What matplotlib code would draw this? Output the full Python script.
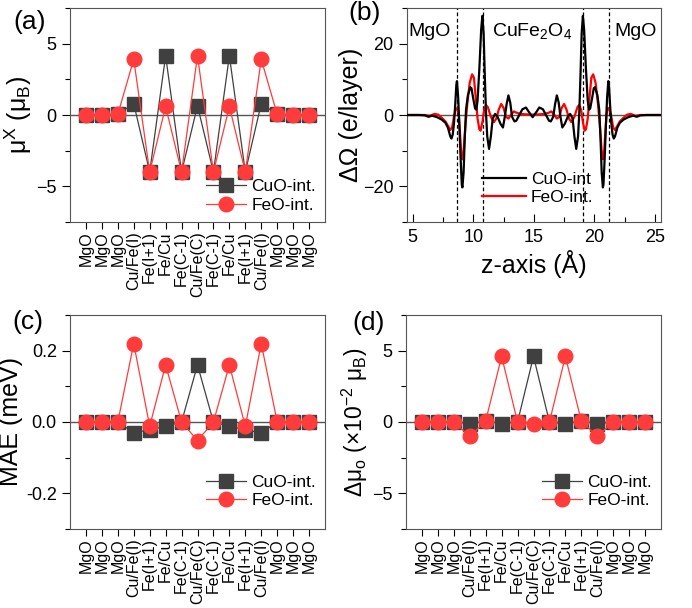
import matplotlib
matplotlib.use('Agg')
import matplotlib.pyplot as plt
from matplotlib.ticker import MultipleLocator, FuncFormatter

plt.rcParams['font.family'] = ['Liberation Sans', 'DejaVu Sans']
plt.rcParams['mathtext.fontset'] = 'custom'
plt.rcParams['mathtext.rm'] = 'Liberation Sans'
plt.rcParams['mathtext.it'] = 'Liberation Sans'

## Layer labels (shared by a, c, d)
layers = ['MgO', 'MgO', 'MgO', 'Cu/Fe(I)', 'Fe(I+1)', 'Fe/Cu', 'Fe(C-1)', 'Cu/Fe(C)',
          'Fe(C-1)', 'Fe/Cu', 'Fe(I+1)', 'Cu/Fe(I)', 'MgO', 'MgO', 'MgO']

## (a) spin moments
mu_cuo = [0, 0, 0.05, 0.8, -4.0, 4.15, -4.0, 0.65, -4.0, 4.15, -4.0, 0.8, 0.05, 0, 0]
mu_feo = [0, 0, 0.05, 3.9, -4.0, 0.6, -4.0, 4.15, -4.0, 0.6, -4.0, 3.9, 0.05, 0, 0]

## (c) MAE
mae_cuo = [0, 0, 0, -0.03, -0.022, -0.012, 0, 0.16, 0, -0.012, -0.022, -0.03, 0, 0, 0]
mae_feo = [0, 0, 0, 0.22, -0.012, 0.16, 0, -0.052, 0, 0.16, -0.012, 0.22, 0, 0, 0]

## (d) orbital moment anisotropy (x1e-2)
dmu_cuo = [0, 0, 0, -0.12, 0.07, -0.12, 0, 4.6, 0, -0.12, 0.07, -0.12, 0, 0, 0]
dmu_feo = [0, 0, 0, -1.0, 0.07, 4.6, 0, -0.12, 0, 4.6, 0.07, -1.0, 0, 0, 0]

## (b) charge density difference along z
z_cuo = [4.5, 5.5, 6.0, 6.3, 6.6, 7.0, 7.4, 7.7, 7.9, 8.1, 8.2, 8.3, 8.4, 8.5, 8.6, 8.65,
         8.75, 8.85, 8.95, 9.05, 9.1, 9.2, 9.3, 9.4, 9.55, 9.75, 9.85, 10.0, 10.15, 10.25,
         10.35, 10.5, 10.65, 10.75, 10.85, 10.95, 11.05, 11.15, 11.3, 11.45, 11.6, 11.8,
         12.0, 12.25, 12.45, 12.6, 12.75, 12.9, 13.05, 13.2, 13.4, 13.55, 13.8, 14.05,
         14.35, 14.6, 14.9, 15.2, 15.45, 15.75, 16.0, 16.25, 16.4, 16.6, 16.75, 16.9,
         17.05, 17.2, 17.35, 17.55, 17.8, 18.0, 18.2, 18.35, 18.5, 18.65, 18.75, 18.85,
         18.95, 19.05, 19.15, 19.3, 19.45, 19.55, 19.65, 19.8, 19.95, 20.05, 20.25, 20.4,
         20.5, 20.6, 20.7, 20.75, 20.85, 20.95, 21.05, 21.15, 21.2, 21.3, 21.4, 21.5,
         21.6, 21.7, 21.9, 22.1, 22.4, 22.8, 23.2, 23.5, 23.8, 24.3, 25.5]
om_cuo = [0, 0, -0.1, -0.5, -0.2, -0.6, -1.3, -2.2, -3.5, -6.0, -6.6, -5.5, -2.5, 2.5, 8.5, 9.5,
          5.0, -3.0, -12.0, -19.5, -20.3, -16.0, -6.0, 1.5, 5.5, 7.8, 7.5, 4.5, 1.8, 1.5,
          4.0, 13.0, 24.0, 27.8, 23.0, 11.0, 0.5, -6.0, -9.5, -6.0, -1.0, 0.3,
          -0.5, -2.5, -3.5, -0.5, 3.0, 5.5, 3.5, -0.5, -1.8, -1.6, 0.0, 1.6,
          2.1, 0.8, -0.6, 0.8, 2.1, 1.6, 0.0, -1.6, -1.8, -0.5, 3.0, 5.5,
          3.5, -0.5, -3.5, -2.5, -0.5, 0.3, -1.0, -6.0, -9.5, -6.0, 0.5, 11.0,
          23.0, 27.8, 24.0, 13.0, 4.0, 1.5, 1.8, 4.5, 7.5, 7.8, 5.5, 1.5,
          -6.0, -16.0, -20.3, -19.5, -12.0, -3.0, 5.0, 9.5, 8.5, 2.5, -2.5, -5.5,
          -6.6, -6.0, -3.5, -2.2, -1.3, -0.6, -0.2, -0.5, -0.1, 0, 0]

z_feo = [4.5, 6.0, 6.4, 6.8, 7.1, 7.4, 7.7, 7.9, 8.1, 8.25, 8.4, 8.55, 8.7, 8.8, 8.9, 9.0,
         9.1, 9.2, 9.35, 9.5, 9.7, 9.9, 10.05, 10.2, 10.35, 10.5, 10.6, 10.75, 10.9, 11.05,
         11.2, 11.45, 11.7, 11.9, 12.1, 12.3, 12.5, 12.7, 12.9, 13.1, 13.35, 13.6, 13.9,
         14.3, 14.9, 15.5, 15.9, 16.2, 16.45, 16.7, 16.9, 17.1, 17.3, 17.5, 17.7, 17.9,
         18.1, 18.35, 18.6, 18.75, 18.9, 19.05, 19.2, 19.3, 19.45, 19.6, 19.75, 19.9,
         20.1, 20.3, 20.45, 20.6, 20.7, 20.8, 20.9, 21.0, 21.1, 21.25, 21.4, 21.55, 21.7,
         21.9, 22.1, 22.4, 22.7, 23.0, 23.4, 23.8, 25.5]
om_feo = [0, 0, -0.2, 0.3, 0.1, -0.8, -1.8, -3.0, -4.2, -3.5, -0.5, 1.5, 2.0, 0.0, -5.0, -10.5,
          -12.4, -10.0, -3.0, 3.0, 9.0, 11.4, 10.5, 5.0, -1.0, -4.0, -4.4, -2.0, 1.5, 2.8,
          2.2, -0.5, -2.0, -1.0, 1.5, 3.1, 2.0, -0.5, -1.0, 0.0, 1.0, 0.6, 0.3,
          0.2, 0.1, 0.2, 0.3, 0.6, 1.0, 0.0, -1.0, -0.5, 2.0, 3.1, 1.5, -1.0,
          -2.0, -0.5, 2.2, 2.8, 1.5, -2.0, -4.4, -4.0, -1.0, 5.0, 10.5, 11.4,
          9.0, 3.0, -3.0, -10.0, -12.4, -10.5, -5.0, 0.0, 2.0, 1.5, -0.5, -3.5, -4.2,
          -3.0, -1.8, -0.8, 0.1, 0.3, -0.2, 0, 0]

boundaries = [8.63, 10.78, 19.09, 21.23]

fig = plt.figure(figsize=(6.92, 6.08), dpi=100)
W, H = 692.0, 608.0

def frame(x0, x1, y0, y1):
    return fig.add_axes([x0 / W, 1 - y1 / H, (x1 - x0) / W, (y1 - y0) / H])

def layer_panel(ax, cuo, feo, ylim, major, minor, ylabel, ylsize, leg_y):
    x = list(range(len(layers)))
    ax.axhline(0, color='#555555', lw=1.0, zorder=1)
    ax.plot(x, cuo, '-s', color='#404040', lw=0.9, ms=9.5, label='CuO-int.', zorder=2)
    ax.plot(x, feo, '-o', color='#ff3b3b', lw=0.9, ms=10.5, label='FeO-int.', zorder=3)
    ax.set_xlim(-1, 15)
    ax.set_ylim(*ylim)
    ax.set_xticks(x)
    ax.set_xticklabels(layers, rotation=90, fontsize=11.5)
    ax.yaxis.set_major_locator(MultipleLocator(major))
    ax.yaxis.set_minor_locator(MultipleLocator(minor))
    ax.tick_params(axis='x', direction='out', length=5, width=0.8, pad=1.5)
    ax.tick_params(axis='y', which='major', direction='out', length=6, width=0.8, labelsize=13)
    ax.tick_params(axis='y', which='minor', direction='out', length=3.5, width=0.8)
    ax.set_ylabel(ylabel, fontsize=ylsize, labelpad=2)
    ax.legend(loc='upper left', bbox_to_anchor=(0.535, leg_y), frameon=False, fontsize=12.5,
              handlelength=2.3, handletextpad=0.3, labelspacing=0.2, borderpad=0,
              borderaxespad=0)
    for s in ax.spines.values():
        s.set_color('#555555')

ax_a = frame(70, 325, 8, 222)
layer_panel(ax_a, mu_cuo, mu_feo, (-7.5, 7.5), 5, 2.5,
            r'μ$^{\mathrm{X}}$ (μ$_{\mathrm{B}}$)', 18, 0.2)

ax_c = frame(70, 325, 315, 529)
layer_panel(ax_c, mae_cuo, mae_feo, (-0.3, 0.3), 0.2, 0.1, 'MAE (meV)', 18, 0.255)
ax_c.yaxis.set_major_formatter(FuncFormatter(lambda v, p: '%.1f' % v))

ax_d = frame(406, 661, 315, 529)
layer_panel(ax_d, dmu_cuo, dmu_feo, (-7.5, 7.5), 5, 2.5,
            r'Δμ$_{\mathrm{o}}$ (×10$^{-2}$ μ$_{\mathrm{B}}$)', 16.5, 0.255)

## (b)
ax_b = frame(406.7, 661, 8, 222)
ax_b.axhline(0, color='#555555', lw=1.0, zorder=1)
for zb in boundaries:
    ax_b.axvline(zb, color='black', lw=0.9, ls=(0, (3, 2)), zorder=1)
ax_b.plot(z_cuo, om_cuo, color='black', lw=1.6, label='CuO-int', zorder=3)
ax_b.plot(z_feo, om_feo, color='#ff0000', lw=1.6, label='FeO-int.', zorder=2)
ax_b.set_xlim(4.5, 25.5)
ax_b.set_ylim(-30, 30)
ax_b.xaxis.set_major_locator(MultipleLocator(5))
ax_b.xaxis.set_minor_locator(MultipleLocator(2.5))
ax_b.yaxis.set_major_locator(MultipleLocator(20))
ax_b.yaxis.set_minor_locator(MultipleLocator(10))
ax_b.tick_params(axis='x', which='major', direction='in', length=6, width=0.8, labelsize=13, pad=5)
ax_b.tick_params(axis='x', which='minor', direction='in', length=3.5, width=0.8)
ax_b.tick_params(axis='y', which='major', direction='out', length=6, width=0.8, labelsize=13)
ax_b.tick_params(axis='y', which='minor', direction='out', length=3.5, width=0.8)
ax_b.set_xlabel('z-axis (Å)', fontsize=18, labelpad=3)
ax_b.set_ylabel('ΔΩ (e/layer)', fontsize=18, labelpad=0)
ax_b.text(6.4, 23.5, 'MgO', fontsize=14, ha='center', va='center')
ax_b.text(14.85, 23.5, r'CuFe$_2$O$_4$', fontsize=14, ha='center', va='center')
ax_b.text(23.4, 23.5, 'MgO', fontsize=14, ha='center', va='center')
ax_b.legend(loc='upper left', bbox_to_anchor=(0.297, 0.235), frameon=False, fontsize=12.5,
            handlelength=2.5, handletextpad=0.3, labelspacing=0.2, borderpad=0,
            borderaxespad=0)
for s in ax_b.spines.values():
    s.set_color('#555555')

## Panel letters
for lab, px, py in [('(a)', 13, 22), ('(b)', 348, 13), ('(c)', 12, 322), ('(d)', 352, 323)]:
    fig.text(px / W, 1 - py / H, lab, fontsize=19, ha='left', va='center')

fig.savefig('out.png', dpi=100)
